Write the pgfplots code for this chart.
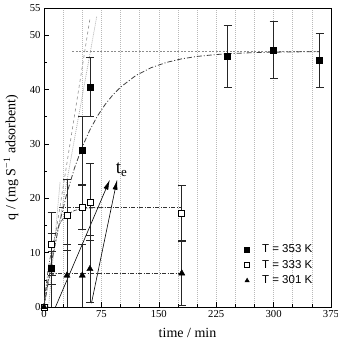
\documentclass[border=0pt]{standalone}
\usepackage{fontspec}
\setmainfont{Liberation Serif}
\newfontfamily\legendfont{Liberation Sans}
\usepackage{pgfplots}
\pgfplotsset{compat=1.18}
\usetikzlibrary{arrows.meta}

\begin{document}
\begin{tikzpicture}
\begin{axis}[
  width=287pt, height=299pt, scale only axis,
  xmin=0, xmax=375, ymin=0, ymax=55,
  xtick={0,75,...,375},
  minor xtick={25,50,100,125,175,200,250,275,325,350},
  ytick={0,10,20,30,40,50,55},
  minor ytick={5,15,25,35,45},
  xtick pos=bottom, ytick pos=left,
  tick align=inside,
  major tick length=5pt, minor tick length=3pt,
  tick style={black, line width=0.6pt},
  axis line style={line width=0.7pt},
  xmajorgrids, xminorgrids,
  major grid style={gray!55, dash pattern=on 1pt off 1pt, line width=0.6pt},
  minor grid style={gray!55, dash pattern=on 1pt off 1pt, line width=0.6pt},
  ticklabel style={font=\fontsize{10.7}{12}\selectfont},
  /pgf/number format/assume math mode=true,
  xlabel={time / min},
  ylabel={q / (mg S\textsuperscript{−1} adsorbent)},
  label style={font=\fontsize{14}{16}\selectfont},
  xlabel style={at={(axis description cs:0.5,-0.087)}, anchor=center},
  ylabel style={at={(axis description cs:-0.115,0.5)}, anchor=center},
  legend style={draw=none, fill=none,
    font=\legendfont\fontsize{11.5}{13}\selectfont,
    at={(0.676,0.222)}, anchor=north west, row sep=2pt},
  legend cell align=left,
  legend image code/.code={%
    \path (0cm,0cm) (0.65cm,0cm);
    \draw[#1, mark size=2.5pt] plot coordinates {(0.2cm,0cm)};},
  error bars/error bar style={black!85, line width=0.6pt},
  error bars/error mark options={rotate=90, mark size=4pt, line width=0.6pt, black!85},
]

% tangents at the origin (353 K and 333 K)
\addplot[forget plot, gray!65, dash pattern=on 1pt off 1pt, line width=0.7pt]
  coordinates {(0,0) (69,53.5)};
\addplot[forget plot, gray!90, dashed, line width=0.6pt]
  coordinates {(0,0) (60,53)};
\addplot[forget plot, gray!65, dash pattern=on 1pt off 1pt, line width=0.7pt]
  coordinates {(6,0) (21,23)};

% equilibrium levels
\addplot[forget plot, gray!90, dash pattern=on 2pt off 1.5pt, line width=0.6pt]
  coordinates {(37,47) (360,47)};
\addplot[forget plot, black!80, dash pattern=on 4pt off 1.5pt on 1pt off 1.5pt, line width=0.7pt]
  coordinates {(20,18.3) (180,18.3)};
\addplot[forget plot, black!80, dash pattern=on 4pt off 1.5pt on 1pt off 1.5pt, line width=0.7pt]
  coordinates {(8,6.2) (180,6.2)};

% fitted kinetic curves
\addplot[forget plot, black!75, dash pattern=on 5pt off 2pt on 1pt off 2pt, line width=0.8pt]
  coordinates {(0,0) (10,8.40) (20,15.30) (30,20.97) (40,25.62) (50,29.45)
    (60,32.59) (70,35.16) (80,37.28) (90,39.02) (100,40.44) (120,42.58)
    (140,44.02) (160,44.99) (180,45.65) (200,46.09) (225,46.44) (250,46.66)
    (275,46.79) (300,46.87) (330,46.93) (360,46.96)};
\addplot[forget plot, black!70, dash pattern=on 4pt off 1.5pt on 1pt off 1.5pt, line width=0.7pt]
  coordinates {(0,0) (2,2.95) (5,6.51) (10,10.71) (15,13.41) (20,15.15)
    (25,16.27) (30,17.00) (40,17.76) (50,18.08) (60,18.21) (80,18.29)};
\addplot[forget plot, black!70, dash pattern=on 4pt off 1.5pt on 1pt off 1.5pt, line width=0.7pt]
  coordinates {(0,0) (2,2.80) (4,4.33) (6,5.18) (8,5.64) (12,6.03) (16,6.15)};

% equilibration times
\addplot[forget plot, black, line width=0.6pt, -{Latex[length=10pt,width=5pt]}]
  coordinates {(15,0) (86,23.4)};
\addplot[forget plot, black, line width=0.6pt, -{Latex[length=10pt,width=5pt]}]
  coordinates {(62,0.7) (95.5,23.4)};
\node[anchor=base west, inner sep=0pt, font=\fontsize{19}{20}\selectfont]
  at (axis cs:93.7,24.5) {t\textsubscript{\fontsize{13}{14}\selectfont e}};

% measured uptake
\addplot[only marks, mark=square*, mark size=3pt, black,
  error bars/.cd, y dir=both, y explicit] coordinates {
  (0,0) +- (0,0)
  (10,7.2) +- (0,3)
  (50,28.8) +- (0,6.2)
  (60,40.5) +- (0,5.4)
  (240,46.2) +- (0,5.7)
  (300,47.3) +- (0,5.3)
  (360,45.4) +- (0,4.9)
};
\addlegendentry{T = 353 K}

\addplot[only marks, mark=square*, mark size=3pt, mark options={fill=white, draw=black, line width=0.6pt},
  error bars/.cd, y dir=both, y explicit] coordinates {
  (0,0) +- (0,0)
  (10,11.6) +- (0,5.8)
  (30,16.9) +- (0,6.5)
  (50,18.3) +- (0,4.0)
  (60,19.3) +- (0,7.1)
  (180,17.3) +- (0,5.0)
};
\addlegendentry{T = 333 K}

\addplot[only marks, mark=triangle*, mark size=3.6pt, black,
  error bars/.cd, y dir=both, y explicit] coordinates {
  (0,0) +- (0,0)
  (10,6.8) +- (0,6.8)
  (30,5.8) +- (0,5.8)
  (50,5.8) +- (0,5.8)
  (60,7.0) +- (0,6.2)
  (180,6.2) +- (0,5.9)
};
\addlegendentry{T = 301 K}

\end{axis}
\pgfresetboundingbox
\path[use as bounding box] ([shift={(-44pt,-33pt)}]current axis.south west)
  rectangle ([shift={(6pt,8pt)}]current axis.north east);
\end{tikzpicture}
\end{document}
